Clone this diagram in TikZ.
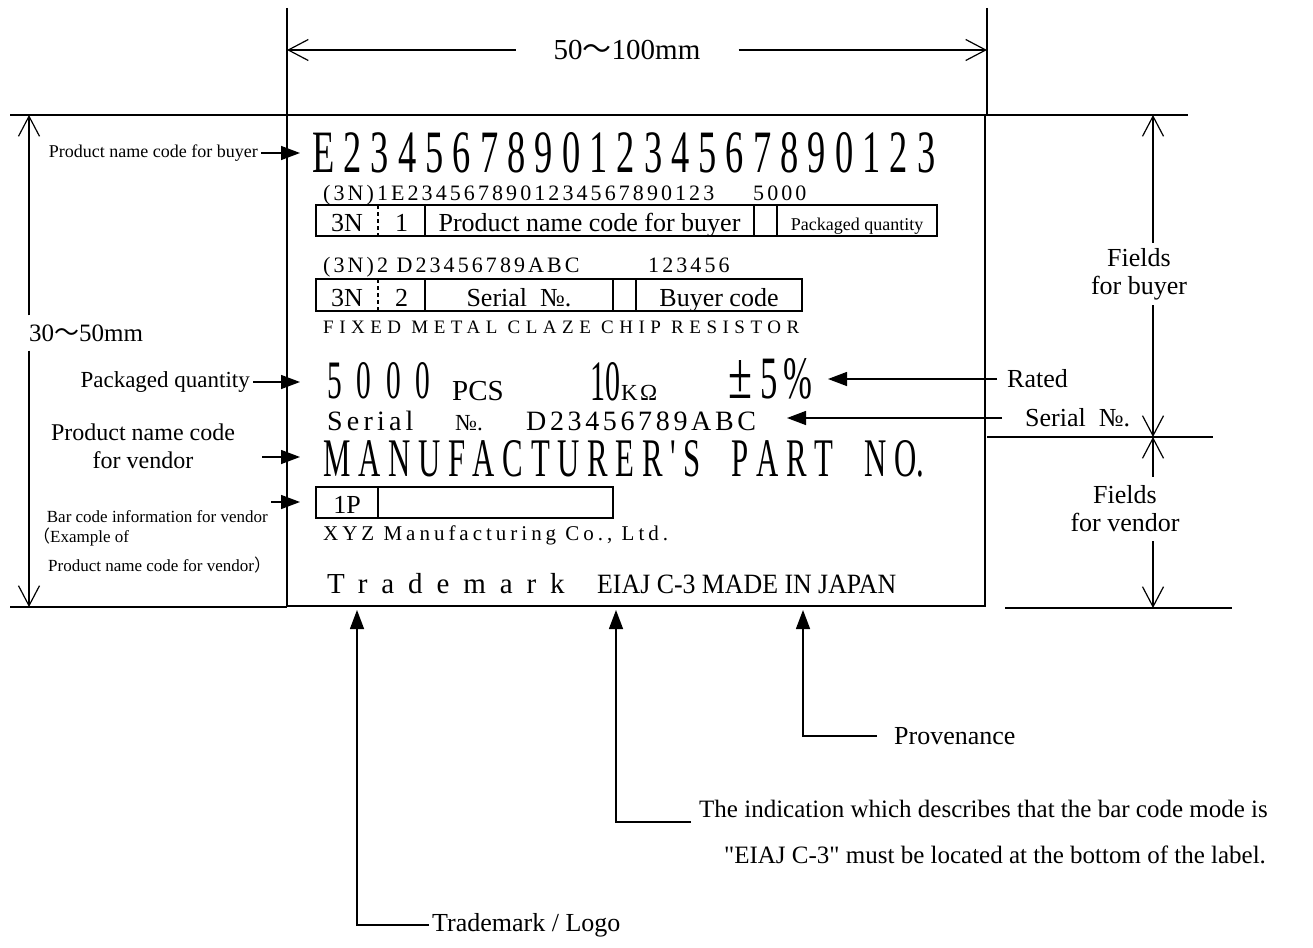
\documentclass[tikz,border=0pt]{standalone}
\usepackage{fontspec}
\setmainfont{Liberation Serif}
\newfontfamily\rawfont{Liberation Serif}
\newfontfamily\cjk{Noto Sans CJK JP}
\usepackage{graphicx}
\usetikzlibrary{arrows.meta, calc}

\begin{document}
\begin{tikzpicture}[x=1pt, y=-1pt,
	note/.style={font=\fontsize{26}{28}\selectfont, inner sep=3pt},
	small/.style={font=\fontsize{17}{20}\selectfont, inner sep=3pt},
	lbl/.style={inner sep=0pt, anchor=base west},
	mono/.style={lbl, font=\fontsize{22}{24}\selectfont\addfontfeatures{LetterSpace=14}},
	cell/.style={inner sep=0pt, anchor=base, font=\fontsize{26}{28}\selectfont},
	dimln/.style={line width=1.2pt},
	dimar/.style={dimln, -{Straight Barb[length=20pt, width=21pt]}},
	ar/.style={line width=1.4pt, -{Triangle[length=19pt, width=14pt]}},
	box/.style={line width=2pt}
	]
	\useasboundingbox (0,0) rectangle (1313,947);
	\draw[line width=1.6pt] (287,115) rectangle (985,606);
	\draw[dimln] (287,8) -- (287,115);
	\draw[dimln] (987,8) -- (987,115);
	\draw[dimln] (10,115) -- (1188,115);
	\draw[dimln] (10,607) -- (287,607);
	\draw[dimln] (987,437) -- (1213,437);
	\draw[dimln] (1005,608) -- (1232,608);

	\node[note, font=\fontsize{29}{32}\selectfont, inner xsep=38pt] (wd) at (627,50) {50{\cjk ～}100mm};
	\coordinate (wdl) at (287,50);
	\coordinate (wdr) at (987,50);
	\draw[dimar] (wd.west) -- (wdl);
	\draw[dimar] (wd.east) -- (wdr);

	\node[note, font=\fontsize{25}{28}\selectfont, inner ysep=9pt] (hd) at (86,333) {30{\cjk ～}50mm};
	\coordinate (hdt) at (29,115);
	\coordinate (hdb) at (29,607);
	\draw[dimar] (hd.north -| hdt) -- (hdt);
	\draw[dimar] (hd.south -| hdb) -- (hdb);

	\node[note, align=center, inner ysep=5pt] (fb) at (1139,274) {Fields\\for buyer};
	\coordinate (fbt) at (1153,115);
	\coordinate (fbb) at (1153,437);
	\draw[dimar] (fb.north -| fbt) -- (fbt);
	\draw[dimar] (fb.south -| fbb) -- (fbb);
	\node[note, align=center, inner ysep=9pt] (fv) at (1125,509) {Fields\\for vendor};
	\coordinate (fvt) at (1153,437);
	\coordinate (fvb) at (1153,608);
	\draw[dimar] (fv.north -| fvt) -- (fvt);
	\draw[dimar] (fv.south -| fvb) -- (fvb);

	\node[lbl] (big) at (312,172) {\resizebox{623pt}{40pt}{E 2 3 4 5 6 7 8 9 0 1 2 3 4 5 6 7 8 9 0 1 2 3}};
	\node[mono] (c1) at (323,200) {(3N)1E2345678901234567890123};
	\node[mono] (q1) at (753,200) {5000};
	\draw[box] (316,205) rectangle (937,236);
	\foreach \x in {425,754,777} \draw[box] (\x,205) -- (\x,236);
	\draw[box, dash pattern=on 4pt off 3pt] (378,205) -- (378,236);
	\foreach \x/\t/\n in {347/3N/a, 401.5/1/b, 589.5/{Product name code for buyer}/c}
		\node[cell] (ra\n) at (\x,231) {\t};
	\node[cell, font=\fontsize{18}{20}\selectfont] (rad) at (857,230) {Packaged quantity};

	\node[mono] (c2) at (323,272) {(3N)2 D23456789ABC};
	\node[mono] (q2) at (648,272) {123456};
	\draw[box] (316,279) rectangle (802,311);
	\foreach \x in {425,613,636} \draw[box] (\x,279) -- (\x,311);
	\draw[box, dash pattern=on 4pt off 3pt] (378,279) -- (378,311);
	\foreach \x/\t/\n in {347/3N/a, 401.5/2/b, 519/{Serial~~№.}/c, 719/{Buyer code}/d}
		\node[cell] (rb\n) at (\x,306) {\t};

	\node[lbl, font=\fontsize{19}{22}\selectfont\addfontfeatures{LetterSpace=29}] (fx) at (323,333) {FIXED METAL CLAZE CHIP RESISTOR};
	\node[lbl] (qty) at (327,398) {\resizebox{103pt}{36pt}{5\hspace{0.5em}0\hspace{0.5em}0\hspace{0.5em}0}};
	\node[lbl, font=\fontsize{29}{32}\selectfont] (pcs) at (452,400) {PCS};
	\node[lbl] (ohm) at (590,400) {\resizebox{30pt}{38pt}{10}};
	\node[lbl, font=\fontsize{23}{24}\selectfont\addfontfeatures{LetterSpace=10}] (kohm) at (621,400) {KΩ};
	\node[lbl] (pm) at (728,398) {\resizebox{24pt}{38pt}{±}};
	\node[lbl] (tol) at (760,398) {\resizebox{52pt}{40pt}{5\,\%}};

	\node[lbl, font=\fontsize{28}{30}\selectfont\addfontfeatures{LetterSpace=15}] (ser) at (327,430) {Serial};
	\node[lbl, font=\fontsize{23}{26}\selectfont] (sno) at (455,430) {№.};
	\node[lbl, font=\fontsize{28}{30}\selectfont\addfontfeatures{LetterSpace=13}] (sval) at (526,430) {D23456789ABC};
	\node[lbl] (mpn) at (323,476) {\resizebox{601pt}{36pt}{\rawfont M A N U F A C T U R E R ' S\hspace{1em}P A R T\hspace{1em}N O.}};

	\draw[box] (316,487) rectangle (613,518);
	\draw[box] (378,487) -- (378,518);
	\node[cell] (rc) at (347,513) {1P};
	\node[lbl, font=\fontsize{21}{24}\selectfont\addfontfeatures{LetterSpace=19}] (xyz) at (323,540) {XYZ Manufacturing Co., Ltd.};
	\node[lbl, font=\fontsize{29}{32}\selectfont\addfontfeatures{LetterSpace=48}] (tmk) at (327,593) {Trademark};
	\node[lbl] (eiaj) at (597,593) {\resizebox{299pt}{18.5pt}{EIAJ C-3 MADE IN JAPAN}};

	\coordinate (pnb) at (300,153);
	\coordinate (ppq) at (300,382);
	\coordinate (pnv) at (300,457);
	\coordinate (pbc) at (300,502);
	\node[small, anchor=east, font=\fontsize{18}{20}\selectfont] (nnb) at (261,153) {Product name code for buyer};
	\node[note, anchor=east, font=\fontsize{23}{26}\selectfont] (npq) at (253,382) {Packaged quantity};
	\node[note, align=center, font=\fontsize{24}{28}\selectfont] (nnv) at (143,446) {Product name code\\for vendor};
	\node[small, anchor=east] (nbc) at (271,517) {Bar code information for vendor};
	\node[small, anchor=west] (nex) at (30,537) {{\cjk （}Example of};
	\node[small, anchor=west] (nex2) at (45,565) {Product name code for vendor{\cjk ）}};
	\draw[ar] (nnb.east) -- (pnb);
	\draw[ar] (npq.east) -- (ppq);
	\draw[ar] ($(nnv.east |- pnv)+(24,0)$) -- (pnv);
	\draw[ar] (nbc.north east |- pbc) -- (pbc);

	\coordinate (prt) at (828,379);
	\coordinate (psr) at (787,418);
	\node[note, anchor=west] (nrt) at (1004,379) {Rated};
	\node[note, anchor=west] (nsr) at (1022,418) {Serial~~№.};
	\draw[ar] ($(nrt.west)+(-7,0)$) -- (prt);
	\draw[ar] ($(nsr.west)+(-20,0)$) -- (psr);

	\coordinate (ptm) at (357,610);
	\coordinate (pei) at (616,610);
	\coordinate (ppv) at (803,610);
	\node[note, anchor=west] (npv) at (891,736) {Provenance};
	\node[note, anchor=base west, font=\fontsize{25}{28}\selectfont] (ind) at (696,817) {The indication which describes that the bar code mode is};
	\node[note, anchor=base, font=\fontsize{25}{28}\rawfont] (ind2) at (995,863) {"EIAJ C-3" must be located at the bottom of the label.};
	\node[note, anchor=west] (ntm) at (429,925) {Trademark / Logo};
	\draw[ar] ($(npv.west)+(-14,0)$) -| (ppv);
	\draw[ar] ($(ind.base west)+(-5,5)$) -| (pei);
	\draw[ar] (ntm.west) -| (ptm);
\end{tikzpicture}
\end{document}
